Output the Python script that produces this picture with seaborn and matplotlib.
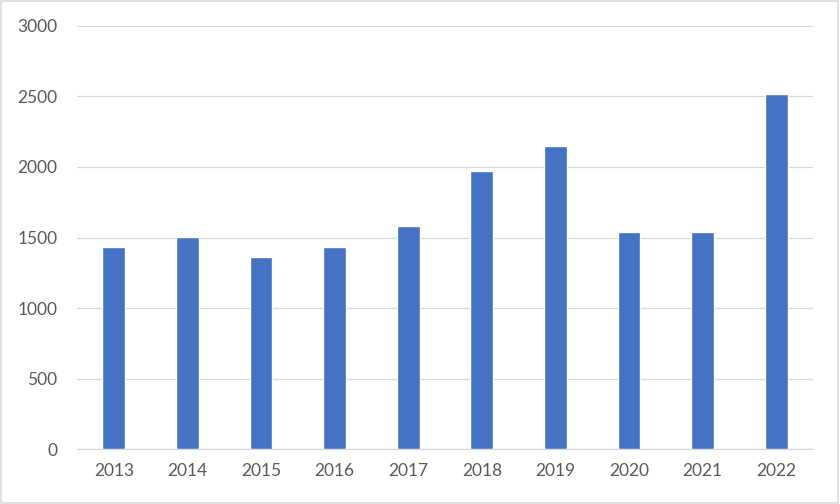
import matplotlib
matplotlib.use("Agg")
import matplotlib.pyplot as plt
import seaborn as sns
import pandas as pd
from matplotlib.patches import Rectangle

years = ["2013", "2014", "2015", "2016", "2017", "2018", "2019", "2020", "2021", "2022"]
values = [1436, 1502, 1361, 1432, 1581, 1969, 2151, 1542, 1542, 2514]
yticks = [0, 500, 1000, 1500, 2000, 2500, 3000]

df = pd.DataFrame({"year": years, "value": values})

sns.set_style("white")
plt.rcParams["font.family"] = ["Lato", "DejaVu Sans"]

fig = plt.figure(figsize=(8.4, 5.04), dpi=100)
ax = fig.add_axes([77 / 840, 1 - 449.3 / 504, 736 / 840, (449.3 - 25.7) / 504])

sns.barplot(data=df, x="year", y="value", color="#4472C4", width=0.31,
            saturation=1, ax=ax, zorder=3)

ax.set_ylim(0, 3000)
ax.set_xlim(-0.5, len(years) - 0.5)
ax.set_yticks(yticks)
ax.set_yticklabels([str(t) for t in yticks])
ax.yaxis.grid(True, color="#D9D9D9", linewidth=0.9, zorder=0)
ax.set_axisbelow(True)
ax.set_xlabel("")
ax.set_ylabel("")
for s in ["top", "right", "left"]:
    ax.spines[s].set_visible(False)
ax.spines["bottom"].set_color("#D9D9D9")
ax.spines["bottom"].set_linewidth(0.9)
ax.tick_params(axis="both", length=0, labelsize=12.5, labelcolor="#595959")
ax.tick_params(axis="y", pad=14)
ax.tick_params(axis="x", pad=10)

# rahmen um das ganze diagramm
fig.patches.append(Rectangle((0.001, 0.002), 0.997, 0.996, transform=fig.transFigure,
                             fill=False, edgecolor="#D9D9D9", linewidth=1.2))

fig.savefig("out.png", dpi=100)
